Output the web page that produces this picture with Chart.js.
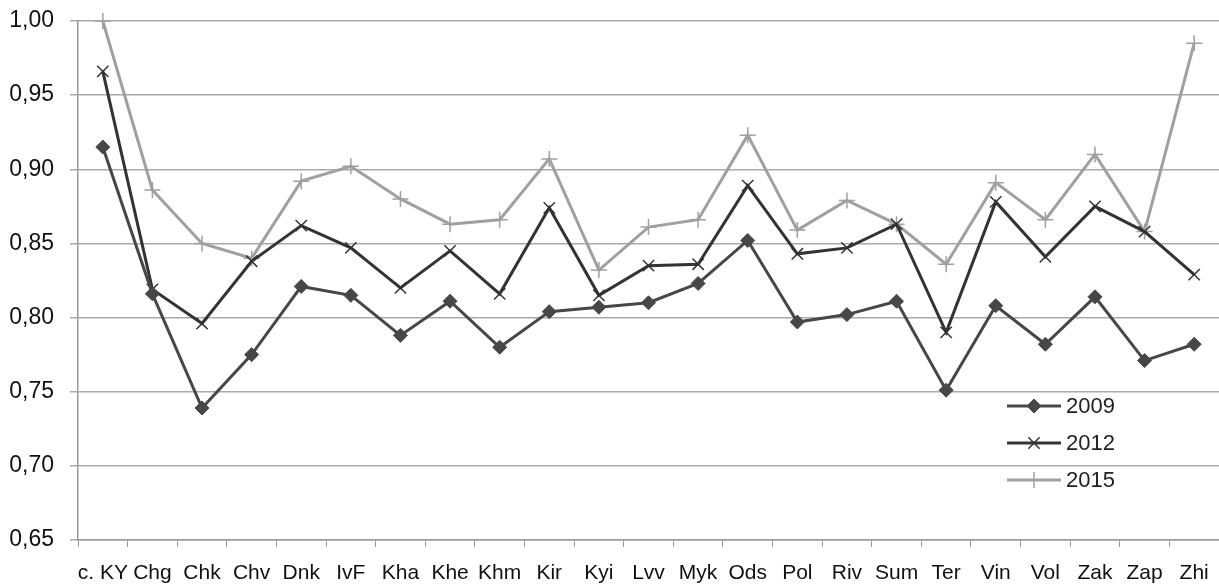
<!DOCTYPE html>
<html>
<head>
<meta charset="utf-8">
<script src="https://cdn.jsdelivr.net/npm/chart.js@4.4.1/dist/chart.umd.min.js"></script>
<style>
  html, body { margin: 0; padding: 0; background: #fff; overflow: hidden; }
  #wrap { width: 1219px; height: 586px; position: relative; }
  #wrap canvas { display: block; }
</style>
</head>
<body>
<div id="wrap"><canvas id="myChart"></canvas></div>
<script>
// Regions (x axis categories)
const regions = ['c. KY', 'Chg', 'Chk', 'Chv', 'Dnk', 'IvF', 'Kha', 'Khe', 'Khm', 'Kir', 'Kyi', 'Lvv',
    'Myk', 'Ods', 'Pol', 'Riv', 'Sum', 'Ter', 'Vin', 'Vol', 'Zak', 'Zap', 'Zhi'];

// Values
const values2009 = [0.915, 0.816, 0.739, 0.775, 0.821, 0.815, 0.788, 0.811, 0.780, 0.804, 0.807, 0.810,
    0.823, 0.852, 0.797, 0.802, 0.811, 0.751, 0.808, 0.782, 0.814, 0.771, 0.782];
const values2012 = [0.966, 0.819, 0.796, 0.838, 0.862, 0.847, 0.820, 0.845, 0.816, 0.874, 0.815, 0.835,
    0.836, 0.889, 0.843, 0.847, 0.863, 0.790, 0.878, 0.841, 0.875, 0.858, 0.829];
const values2015 = [1.000, 0.886, 0.850, 0.840, 0.892, 0.902, 0.880, 0.863, 0.866, 0.907, 0.832, 0.861,
    0.866, 0.923, 0.859, 0.879, 0.863, 0.836, 0.891, 0.866, 0.910, 0.858, 0.985];

// Y axis ticks
const yMin = 0.65;
const yMax = 1.00;
const yStep = 0.05;

const fontFamily = "'Liberation Sans', Arial, sans-serif";

// Legend drawn inside the plot, bottom right
const insideLegend = {
    id: 'insideLegend',
    afterDraw(chart) {
        const ctx = chart.ctx;
        const area = chart.chartArea;
        const x0 = area.right - 212;
        const y0 = area.bottom - 134;
        ctx.save();
        chart.data.datasets.forEach((ds, i) => {
            const y = y0 + i * 37;
            ctx.strokeStyle = ds.borderColor;
            ctx.lineWidth = 3;
            ctx.beginPath();
            ctx.moveTo(x0, y);
            ctx.lineTo(x0 + 54, y);
            ctx.stroke();
            ctx.fillStyle = ds.pointBackgroundColor;
            ctx.strokeStyle = ds.pointBorderColor;
            ctx.lineWidth = ds.pointBorderWidth;
            Chart.helpers.drawPoint(ctx, {
                pointStyle: ds.pointStyle,
                radius: ds.pointRadius,
                borderWidth: ds.pointBorderWidth,
                rotation: 0
            }, x0 + 27, y);
            ctx.fillStyle = '#222';
            ctx.font = '22px ' + fontFamily;
            ctx.textAlign = 'left';
            ctx.textBaseline = 'middle';
            ctx.fillText(ds.label, x0 + 59, y + 1);
        });
        ctx.restore();
    }
};

const ctx = document.getElementById('myChart').getContext('2d');
const chart = new Chart(ctx, {
    type: 'line',
    data: {
        labels: regions,
        datasets: [{
            label: '2009',
            data: values2009,
            borderColor: '#474747',
            borderWidth: 3,
            pointStyle: 'rectRot',
            pointRadius: 7,
            pointBackgroundColor: '#474747',
            pointBorderColor: '#474747',
            pointBorderWidth: 1,
            clip: false
        }, {
            label: '2012',
            data: values2012,
            borderColor: '#333333',
            borderWidth: 3,
            pointStyle: 'crossRot',
            pointRadius: 8,
            pointBackgroundColor: '#333333',
            pointBorderColor: '#333333',
            pointBorderWidth: 1.5,
            clip: false
        }, {
            label: '2015',
            data: values2015,
            borderColor: '#a0a0a0',
            borderWidth: 3,
            pointStyle: 'cross',
            pointRadius: 8,
            pointBackgroundColor: '#a0a0a0',
            pointBorderColor: '#a0a0a0',
            pointBorderWidth: 1.5,
            clip: false
        }]
    },
    options: {
        responsive: true,
        maintainAspectRatio: false,
        animation: false,
        layout: {
            autoPadding: false,  // otherwise the point radius eats the right edge
            padding: { top: 21, right: 0, bottom: 0, left: 0 }
        },
        plugins: {
            legend: { display: false },
            tooltip: { enabled: false }
        },
        elements: { line: { tension: 0 } },
        scales: {
            x: {
                offset: true,
                grid: {
                    offset: true,
                    drawOnChartArea: false,
                    drawTicks: true,
                    tickLength: 7,
                    color: '#999'
                },
                border: { color: '#999', width: 1.5 },
                ticks: {
                    color: '#111',
                    font: { size: 21, family: fontFamily },
                    padding: 14,
                    maxRotation: 0,
                    autoSkip: false
                },
                afterFit(scale) {
                    scale.height = 46;
                    scale.paddingLeft = 0;
                    scale.paddingRight = 0;
                }
            },
            y: {
                min: yMin,
                max: yMax,
                grid: {
                    color: '#aaaaaa',
                    lineWidth: 1.5,
                    tickLength: 8
                },
                border: { color: '#999', width: 1.5 },
                ticks: {
                    stepSize: yStep,
                    color: '#111',
                    font: { size: 23, family: fontFamily },
                    padding: 16,
                    callback: (v) => v.toFixed(2).replace('.', ',')
                },
                afterFit(scale) {
                    scale.width = 78;
                    scale.paddingTop = 0;
                    scale.paddingBottom = 0;
                }
            }
        }
    },
    plugins: [insideLegend]
});
</script>
</body>
</html>
